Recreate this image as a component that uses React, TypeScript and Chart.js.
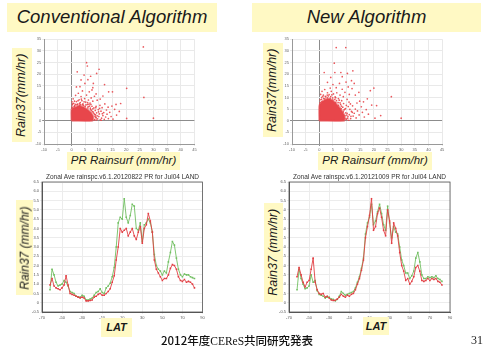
import React, { useEffect, useRef } from "react";
import { Chart, registerables } from "chart.js";
Chart.register(...registerables);

// ---------- DATA ----------
const LATS = [-62,-60,-58,-56,-54,-52,-50,-48,-46,-44,-42,-40,-38,-36,-34,-32,-30,-28,-26,-24,-22,-20,-18,-16,-14,-12,-10,-8,-6,-4,-2,0,2,4,6,8,10,12,14,16,18,20,22,24,26,28,30,32,34,36,38,40,42,44,46,48,50,52,54,56,58,60,62,64,66,68,70,72,74,76,78,80,82];

const CONV_GREEN = [0.7,1.8,1.5,1.1,0.9,0.95,1.0,1.2,1.1,0.9,
  0.6,0.55,0.5,0.35,0.3,0.3,0.4,0.35,0.15,0.15,
  0.2,0.25,0.4,0.55,0.6,0.75,0.55,0.5,0.8,0.9,
  1.05,1.4,1.9,3.0,4.3,4.6,4.5,5.6,4.6,4.3,
  4.7,5.3,5.2,4.0,3.9,4.3,3.3,4.2,4.3,4.5,
  4.3,3.8,2.6,2.0,1.8,1.7,1.5,1.7,1.6,2.2,
  2.7,3.3,3.1,2.4,1.8,1.5,1.4,1.55,1.5,1.5,
  1.4,1.35,1.3];
const CONV_RED = [0.95,1.3,0.9,0.8,0.75,0.7,0.8,0.95,1.45,0.95,
  0.5,0.45,0.4,0.35,0.3,0.25,0.3,0.25,0.1,0.1,
  0.12,0.15,0.3,0.35,0.45,0.5,0.4,0.4,0.5,0.6,
  0.75,1.1,1.45,2.3,3.0,4.0,3.8,3.9,4.0,3.6,
  3.8,4.0,3.6,3.4,3.8,4.1,3.2,4.0,4.2,4.8,
  4.4,3.8,2.3,1.8,1.6,1.4,1.2,1.3,1.3,1.5,
  1.85,2.05,2.0,1.8,1.4,1.2,1.15,1.25,1.1,1.15,
  1.1,1.0,0.8];
const NEW_RED = [1.4,1.9,1.5,1.1,0.85,1.1,1.2,1.8,2.4,1.1,
  0.7,0.5,0.45,0.5,0.3,0.35,0.25,0.15,0.12,0.13,
  0.2,0.3,0.45,0.35,0.3,0.4,0.35,0.45,0.5,0.7,
  1.0,1.3,1.75,2.3,3.5,4.1,4.7,5.6,3.9,4.1,
  4.8,5.1,4.6,3.9,3.6,5.0,4.4,3.2,4.3,4.0,
  3.6,2.7,2.0,1.7,1.2,1.3,1.0,1.15,1.4,1.9,
  2.0,1.7,1.2,1.15,1.2,1.3,1.2,1.3,1.25,1.3,
  1.15,1.1,0.95];
const NEW_GREEN = [0.7,1.8,1.3,1.0,0.75,0.8,0.9,1.5,1.1,1.2,
  0.65,0.45,0.4,0.35,0.25,0.3,0.3,0.2,0.18,0.1,
  0.18,0.35,0.6,0.5,0.4,0.45,0.5,0.55,0.6,0.8,
  1.1,1.4,1.85,2.4,3.7,4.3,4.6,5.3,4.2,4.4,
  4.9,5.3,4.8,4.2,3.9,5.2,4.3,3.5,4.1,3.8,
  3.7,3.0,2.3,2.0,1.6,1.6,1.3,1.45,1.7,2.4,
  2.7,2.2,1.5,1.3,1.3,1.4,1.35,1.4,1.35,1.45,
  1.3,1.25,1.15];

// dense saturated core outline of each scatter (PR Rainsurf, Rain37)
const CONV_CORE = [[0,0],[0,4.8],[0.6,5.6],[1.6,5.9],[2.6,6.4],[3.6,6.2],[4.6,5.8],[5.6,5.0],[6.6,4.1],[7.4,3.1],[7.9,2.0],[8.0,0.9],[7.6,0],[0,0]];
const NEW_CORE = [[0,0],[0,6.2],[0.5,7.6],[1.5,8.6],[2.5,9.2],[3.5,9.4],[4.5,9.0],[5.5,8.1],[6.5,6.9],[7.5,5.6],[8.4,4.1],[9.1,2.6],[9.4,1.1],[9.0,0],[0,0]];

const CONV_SCATTER = [
  [8.5,0.5],[9,1.2],[8.8,2.5],[9.5,0.8],[10,1.8],[10.5,0.4],[9.2,3.4],[10.2,2.9],[11,1.1],[11.5,2.2],[12,0.6],[10.8,4.1],[9.8,4.8],[11.8,3.5],[12.5,1.6],[13,2.8],[13.5,0.9],[12.8,4.6],[14,3.6],[14.5,1.8],[15.2,0.7],[8.2,5.5],[9,6.2],[10.4,6.6],[11.2,5.6],[12.2,7.2],[13.4,5.8],[14.8,6.3],[15.8,4.9],[16.3,7.0],[17.5,4],[18,7.4],[16.5,2.4],[20.2,1.0],[30,1.1],
  [0.3,6.8],[0.8,7.5],[1.2,6.5],[1.8,8.2],[2.2,7.1],[2.8,9],[3.2,7.8],[3.8,8.6],[4.2,7.2],[4.8,9.5],[5.2,8],[5.8,7],[6.2,8.9],[6.8,7.6],[7.2,9.8],[7.8,8.4],[8.4,10.5],[3.5,10.4],[1.5,10.9],[2.5,11.8],[5.5,11],[6.5,12.4],[4,12.8],[9.4,8.8],[10.5,9.3],[11.5,10.6],[9,11.5],[0.6,9.4],[7.5,13.2],
  [1.8,14.5],[3.1,14.6],[4.9,16],[8,16],[6,17.6],[4.6,19.6],[7,19.1],[9.2,20.3],[2.1,21],[10.1,22.1],[5.5,24.9],[5.8,23.5],[3.5,17.5],[13.6,12.4],[15,12.4],[20.2,13.9],[26.5,10],[26.3,31.7],[12.1,15.5],[7.8,14.2],
  [0.2,5.8],[1,6.2],[3,6.6],[4,6.9],[5,6.2],[6,5.5],[7,4.8],[7.6,3.9],[8.2,3.1],[8.6,1.9],[8.4,0.3],[7.8,5.1],[6.6,6.3],
  [0.4,7.2],[1.4,7.0],[2.0,6.9],[2.9,7.3],[3.3,6.9],[4.4,6.6],[5.3,6.8],[6.1,6.1],[6.9,5.4],[7.3,4.5],[8.0,3.7],[8.5,2.7],[8.9,1.5],[9.2,0.3],[8.7,4.4],[9.4,2.1],[9.9,3.8],[7.5,6.2],[5.9,7.8],[4.6,8.1],[2.4,8.6],[1.1,8.4],[0.2,8.1],[3.6,9.3],[6.4,7.1],[8.9,5.6],[10.9,0.2],[11.3,3.0],[10.3,5.3],[7.1,7.0]
];
const NEW_SCATTER = [
  [10,0.5],[10.5,1.8],[10.2,3.2],[11,2.6],[11.5,0.9],[11.8,4],[12.4,2],[12.8,3.2],[13.5,1.2],[13.2,5],[14,4.2],[14.6,2.5],[15.4,6],[15.8,3.6],[16.5,1.6],[17.2,4.8],[18,2.8],[19.2,6.7],[20.4,1.1],[30,1.1],[9.6,5.2],[10.6,6.1],[11.4,7.2],[12.2,6.4],[13.8,7.6],[14.8,8.4],[16.2,8.1],[17.6,9.4],[18.7,12.9],[20,14],[26.4,10.3],[21,6.5],[22.5,2.2],
  [0.3,9],[0.9,10],[1.5,11],[2.2,10.5],[3,12],[3.6,11.2],[4.4,12.6],[5.2,11.5],[5.8,10.2],[6.4,12],[7,9.5],[7.6,11],[8.2,8.6],[8.8,10.3],[9.4,12.2],[10.2,9.2],[11,11.3],[12,13.8],[10.6,14.5],[8.4,13.5],[6.2,14.2],[4,14],[2,13.4],[1,12.6],[13.2,11],[14.5,12.2],[12.8,16],[9.8,16.6],[7.4,16],[5,15.5],[11.8,17.2],[3,16.5],
  [6.2,31.4],[9.7,31.4],[5.5,24.7],[1.8,20.7],[5.7,20.7],[7.9,20.7],[10.3,20.3],[12.3,21.4],[4.2,18.6],[8.4,18.9],
  [0.2,6.8],[1,8.2],[2,9.4],[3,9.8],[4,9.7],[5,8.9],[6,7.8],[7,6.6],[8,5.2],[8.8,3.8],[9.4,2.2],[9.8,0.8],[9,4.6],[7.8,7],
  [0.3,7.8],[0.8,9.2],[1.6,9.6],[2.4,10.2],[3.3,10.6],[4.2,10.4],[4.9,9.8],[5.7,9.2],[6.3,8.6],[6.9,7.8],[7.6,7.7],[8.1,6.3],[8.6,5.8],[9.3,4.9],[9.7,3.4],[10.1,2.4],[10.4,1.1],[10.8,0.2],[9.9,6.6],[8.9,7.4],[7.3,8.8],[6.0,9.9],[4.6,11.1],[2.9,11.0],[1.3,10.5],[0.5,11.3],[11.2,4.9],[11.6,1.9],[12.1,3.6],[10.9,8.0]
];

const TITLE_CONV = "Zonal Ave rainspc.v6.1.20120822 PR for Jul04 LAND";
const TITLE_NEW = "Zonal Ave rainspc.v6.1.20121009 PR for Jul04 LAND";

// ---------- STYLE ----------
const YELLOW = "#fff9c4";
const SCAT_RED = "#e8464b";
const LINE_RED = "#e23f44";
const LINE_GREEN = "#72bf62";

const frame = {
  id: "frame",
  afterDraw(chart: any) {
    const { ctx, chartArea: a } = chart;
    ctx.save();
    ctx.strokeStyle = "#555";
    ctx.lineWidth = 0.8;
    ctx.strokeRect(a.left, a.top, a.right - a.left, a.bottom - a.top);
    ctx.restore();
  },
};

function tickFont() {
  return { size: 4, family: "Liberation Sans" };
}

function scatterConfig(core: number[][], pts: number[][], yW: number, xH: number, padTop: number, padRight: number) {
  return {
    type: "scatter",
    data: {
      datasets: [
        {
          data: pts.map(([x, y]) => ({ x, y })),
          pointRadius: 0.85,
          pointBackgroundColor: "rgba(232,70,75,0.9)",
          pointBorderWidth: 0,
          backgroundColor: SCAT_RED,
        },
        {
          type: "line",
          data: core.map(([x, y]) => ({ x, y })),
          fill: "shape",
          backgroundColor: SCAT_RED,
          borderColor: "rgba(232,70,75,0.6)",
          borderWidth: 2,
          pointRadius: 0,
          tension: 0.3,
        },
      ],
    },
    options: {
      responsive: false,
      animation: false,
      events: [],
      plugins: { legend: { display: false }, tooltip: { enabled: false } },
      layout: { padding: { top: padTop, right: padRight, left: 0, bottom: 0 } },
      scales: {
        x: {
          type: "linear", min: -10, max: 45,
          ticks: { stepSize: 5, font: tickFont(), color: "#666", padding: 1, maxRotation: 0, autoSkip: false },
          grid: { color: (c: any) => (c.tick && c.tick.value === 0 ? "#8c8c8c" : "#e9e9e9"), tickLength: 2, lineWidth: 1 },
          border: { display: true, color: "#999" },
          afterFit: (s: any) => { s.height = xH; },
        },
        y: {
          type: "linear", min: -10, max: 35,
          ticks: { stepSize: 5, font: tickFont(), color: "#666", padding: 1, autoSkip: false },
          grid: { color: (c: any) => (c.tick && c.tick.value === 0 ? "#8c8c8c" : "#e9e9e9"), tickLength: 2, lineWidth: 1 },
          border: { display: true, color: "#999" },
          afterFit: (s: any) => { s.width = yW; },
        },
      },
    },
  };
}

function lineConfig(red: number[], green: number[], yW: number, xH: number, padTop: number, padRight: number) {
  const mk = (vals: number[], color: string) => ({
    data: LATS.map((x, i) => ({ x, y: vals[i] })),
    borderColor: color,
    backgroundColor: color,
    borderWidth: 0.9,
    pointRadius: 1.1,
    pointStyle: "rect",
    pointBorderWidth: 0,
    pointBackgroundColor: color,
    tension: 0,
  });
  return {
    type: "line",
    data: { datasets: [mk(red, LINE_RED), mk(green, LINE_GREEN)] },
    options: {
      responsive: false,
      animation: false,
      events: [],
      plugins: { legend: { display: false }, tooltip: { enabled: false } },
      layout: { padding: { top: padTop, right: padRight, left: 0, bottom: 0 } },
      scales: {
        x: {
          type: "linear", min: -70, max: 90,
          ticks: { stepSize: 20, font: tickFont(), color: "#555", padding: 1, maxRotation: 0, autoSkip: false },
          grid: { color: "#ececec", tickLength: 2, lineWidth: 1 },
          border: { display: true, color: "#555" },
          afterFit: (s: any) => { s.height = xH; },
        },
        y: {
          type: "linear", min: -0.5, max: 6.5,
          ticks: { stepSize: 0.5, font: tickFont(), color: "#555", padding: 1, autoSkip: false },
          grid: { color: "#ececec", tickLength: 2, lineWidth: 1 },
          border: { display: true, color: "#555" },
          afterFit: (s: any) => { s.width = yW; },
        },
      },
    },
    plugins: [frame],
  };
}

function ChartCanvas({ left, top, width, height, config }: any) {
  const ref = useRef<HTMLCanvasElement>(null);
  useEffect(() => {
    const c = new Chart(ref.current as HTMLCanvasElement, config);
    return () => c.destroy();
  }, []);
  return (
    <canvas ref={ref} width={width} height={height}
      style={{ position: "absolute", left, top, width, height }} />
  );
}

function Box({ l, t, w, h, size, text, vertical, bold }: any) {
  return (
    <div style={{ position: "absolute", left: l, top: t, width: w, height: h, background: YELLOW,
      display: "flex", alignItems: "center", justifyContent: "center" }}>
      <span style={{ whiteSpace: "nowrap", fontStyle: "italic", fontSize: size, fontWeight: bold ? 700 : 400,
        transform: vertical ? "rotate(-90deg)" : undefined, lineHeight: 1, color: "#1a1a1a", display: "inline-block" }}>
        {text}
      </span>
    </div>
  );
}

function SmallTitle({ l, t, w, text }: any) {
  return (
    <div style={{ position: "absolute", left: l, top: t, width: w, textAlign: "center", fontSize: 6.5,
      lineHeight: "7px", color: "#333", whiteSpace: "nowrap" }}>{text}</div>
  );
}

export default function App() {
  return (
    <div style={{ position: "absolute", left: 0, top: 0, width: 485, height: 349, background: "#fff",
      overflow: "hidden", fontFamily: '"Liberation Sans", Arial, sans-serif' }}>
      <ChartCanvas left={30} top={33} width={170} height={119}
        config={scatterConfig(CONV_CORE, CONV_SCATTER, 14.2, 8, 6.2, 5.6)} />
      <ChartCanvas left={278} top={33} width={170} height={119}
        config={scatterConfig(NEW_CORE, NEW_SCATTER, 14, 8, 6.2, 5.9)} />
      <ChartCanvas left={28} top={178} width={181} height={142}
        config={lineConfig(CONV_RED, CONV_GREEN, 14, 8, 4, 6.5)} />
      <ChartCanvas left={275} top={178} width={181} height={142}
        config={lineConfig(NEW_RED, NEW_GREEN, 14, 8, 4, 6)} />

      <Box l={7} t={3} w={210} h={29} size={18.5} text="Conventional Algorithm" />
      <Box l={252} t={3} w={229} h={29} size={18.5} text="New Algorithm" />
      <Box l={12} t={48} w={20} h={94} size={12.5} vertical text="Rain37(mm/hr)" />
      <Box l={263} t={43} w={20} h={94} size={12.5} vertical text="Rain37(mm/hr)" />
      <Box l={67} t={152} w={113} h={18} size={11.5} text="PR Rainsurf (mm/hr)" />
      <Box l={318} t={152} w={114} h={18} size={11.5} text="PR Rainsurf (mm/hr)" />
      <Box l={16} t={200} w={17} h={95} size={12} vertical text="Rain37 (mm/hr)" />
      <Box l={264} t={203} w={19} h={99} size={12.5} vertical text="Rain37 (mm/hr)" />
      <Box l={101} t={318} w={31} h={19} size={11} bold text="LAT" />
      <Box l={363} t={317} w={26} h={18} size={11} bold text="LAT" />

      <SmallTitle l={42} t={172.5} w={161} text={TITLE_CONV} />
      <SmallTitle l={289} t={172.5} w={161} text={TITLE_NEW} />

      <div style={{ position: "absolute", left: 161, top: 333, fontSize: 11.5, lineHeight: "14px", color: "#111",
        whiteSpace: "nowrap", fontFamily: '"Noto Sans CJK JP", sans-serif', fontWeight: 500 }}>
        2012年度<span style={{ fontFamily: '"Liberation Serif", serif', fontWeight: 400 }}>CEReS</span>共同研究発表
      </div>
      <div style={{ position: "absolute", left: 471, top: 333, fontSize: 12, lineHeight: "14px", color: "#222",
        fontFamily: '"Liberation Serif", serif' }}>31</div>
    </div>
  );
}
